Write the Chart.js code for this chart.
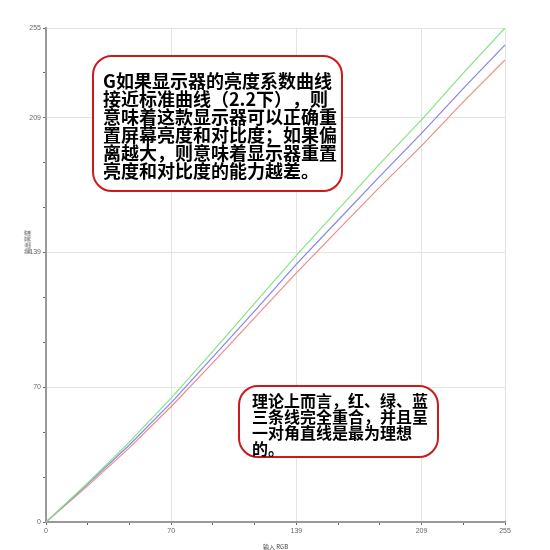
<!DOCTYPE html>
<html>
<head>
<meta charset="utf-8">
<script src="https://cdn.jsdelivr.net/npm/chart.js@4/dist/chart.umd.min.js"></script>
<style>
    body { margin: 0; background: #fff; }
    #wrap { position: relative; width: 550px; height: 550px; }
    .note {
        position: absolute;
        box-sizing: border-box;
        background: #fff;
        border: 2px solid #cc1a1a;
        border-radius: 20px;
        font-family: "Noto Sans CJK SC", sans-serif;
        font-weight: 700;
        color: #000;
        white-space: nowrap;
        text-spacing-trim: space-all;
    }
    #note1 { left: 92px; top: 55px; width: 251px; height: 137px; padding: 14px 0 0 9px; font-size: 18px; line-height: 18px; }
    #note2 { left: 238px; top: 385px; width: 201px; height: 73px; padding: 5px 0 0 12px; font-size: 16px; line-height: 16px; }
    #yTitle {
        position: absolute;
        left: 27px; top: 242px;
        font-family: "Noto Sans CJK SC", sans-serif;
        font-size: 6px;
        color: #444;
        white-space: nowrap;
        transform: translate(-50%, -50%) rotate(-90deg);
    }
</style>
</head>
<body>
<div id="wrap">
    <canvas id="gammaChart" width="550" height="550"></canvas>
    <div id="yTitle"></div>
    <div class="note" id="note1">G如果显示器的亮度系数曲线<br>接近标准曲线（2.2下），则<br>意味着这款显示器可以正确重<br>置屏幕亮度和对比度；如果偏<br>离越大，则意味着显示器重置<br>亮度和对比度的能力越差。</div>
    <div class="note" id="note2">理论上而言，红、绿、蓝<br>三条线完全重合，并且呈<br>一对角直线是最为理想<br>的。</div>
</div>
<script>
// 입력 레벨(가로축)과 채널별 출력 값 - 그림에서 읽은 값
var inputLevels = [0, 23, 46, 70, 93, 116, 139, 162, 185, 209, 232, 255];
var greenOut = [0, 20, 41, 64.5, 88.5, 113, 137.5, 161, 184.5, 208, 232, 255];
var blueOut = [0, 19.5, 39.5, 62, 85.5, 109, 133, 155.5, 178, 201, 224, 246.3];
var redOut = [0, 18.5, 38, 60, 82.5, 105.5, 128.5, 150.5, 172.5, 194.5, 217, 238.5];

// 축 눈금: 0~255 를 11칸으로 나누고 아래 값만 글자를 붙인다
var axisMax = 255;
var tickCount = 11;
var labeledTicks = [0, 70, 139, 209, 255];
var xTitle = "输入 RGB";
var yTitle = "输出亮度";

document.getElementById("yTitle").textContent = yTitle;

function toPoints(values) {
    return inputLevels.map(function (x, i) {
        return { x: x, y: values[i] };
    });
}

function isLabeled(v) {
    return labeledTicks.indexOf(Math.round(v)) !== -1;
}

function makeAxis(fitSize) {
    return {
        type: "linear",
        min: 0,
        max: axisMax,
        afterBuildTicks: function (scale) {
            var t = [];
            for (var k = 0; k <= tickCount; k++) {
                t.push({ value: axisMax * k / tickCount });
            }
            scale.ticks = t;
        },
        afterFit: fitSize,
        ticks: {
            autoSkip: false,
            maxRotation: 0,
            padding: 2,
            color: "#666",
            font: { family: "Liberation Sans", size: 7 },
            callback: function (value) {
                return isLabeled(value) ? String(Math.round(value)) : "";
            }
        },
        grid: {
            lineWidth: 1,
            tickLength: 3,
            tickColor: "#666",
            color: function (ctx) {
                if (ctx.tick && isLabeled(ctx.tick.value)) return "#e3e3e3";
                return "rgba(0,0,0,0)";
            }
        },
        border: { display: true, color: "#999", width: 2 }
    };
}

function makeSet(label, values, color) {
    return {
        label: label,
        data: toPoints(values),
        borderColor: color,
        borderWidth: 1.2,
        pointRadius: 0,
        tension: 0,
        fill: false
    };
}

var xAxis = makeAxis(function (scale) { scale.height = 28; });
xAxis.title = {
    display: true,
    text: xTitle,
    color: "#444",
    padding: { top: 0, bottom: 0 },
    font: { family: "Noto Sans CJK SC", size: 6 }
};
var yAxis = makeAxis(function (scale) { scale.width = 46; });

var ctx = document.getElementById("gammaChart").getContext("2d");
new Chart(ctx, {
    type: "line",
    data: {
        datasets: [
            makeSet("G", greenOut, "#86e486"),
            makeSet("B", blueOut, "#8585ee"),
            makeSet("R", redOut, "#f08a8a")
        ]
    },
    options: {
        responsive: false,
        animation: false,
        layout: { padding: { top: 28, right: 45, left: 0, bottom: 0 } },
        plugins: {
            legend: { display: false },
            tooltip: { enabled: false }
        },
        scales: {
            x: xAxis,
            y: yAxis
        }
    }
});
</script>
</body>
</html>
